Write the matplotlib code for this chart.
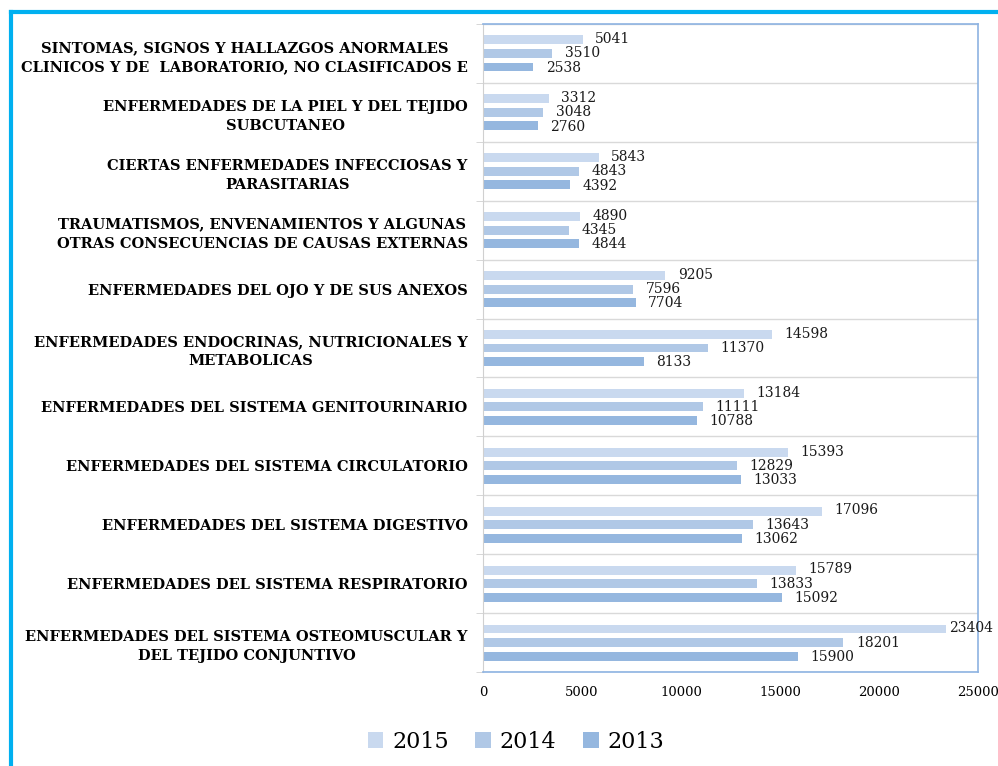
import matplotlib
matplotlib.use("Agg")
import matplotlib.pyplot as plt
from matplotlib.lines import Line2D
import numpy as np

# categories listed top to bottom as in the chart
categories = [
    "SINTOMAS, SIGNOS Y HALLAZGOS ANORMALES\nCLINICOS Y DE  LABORATORIO, NO CLASIFICADOS E",
    "ENFERMEDADES DE LA PIEL Y DEL TEJIDO\nSUBCUTANEO",
    "CIERTAS ENFERMEDADES INFECCIOSAS Y\nPARASITARIAS",
    "TRAUMATISMOS, ENVENAMIENTOS Y ALGUNAS\nOTRAS CONSECUENCIAS DE CAUSAS EXTERNAS",
    "ENFERMEDADES DEL OJO Y DE SUS ANEXOS",
    "ENFERMEDADES ENDOCRINAS, NUTRICIONALES Y\nMETABOLICAS",
    "ENFERMEDADES DEL SISTEMA GENITOURINARIO",
    "ENFERMEDADES DEL SISTEMA CIRCULATORIO",
    "ENFERMEDADES DEL SISTEMA DIGESTIVO",
    "ENFERMEDADES DEL SISTEMA RESPIRATORIO",
    "ENFERMEDADES DEL SISTEMA OSTEOMUSCULAR Y\nDEL TEJIDO CONJUNTIVO",
]
years = ["2015", "2014", "2013"]
v2015 = [5041, 3312, 5843, 4890, 9205, 14598, 13184, 15393, 17096, 15789, 23404]
v2014 = [3510, 3048, 4843, 4345, 7596, 11370, 11111, 12829, 13643, 13833, 18201]
v2013 = [2538, 2760, 4392, 4844, 7704, 8133, 10788, 13033, 13062, 15092, 15900]
xticks = [0, 5000, 10000, 15000, 20000, 25000]

colors = ["#C9D9EF", "#B0C8E6", "#95B7DF"]
serif = "DejaVu Serif"

fig = plt.figure(figsize=(9.98, 7.66), dpi=100)
ax = fig.add_axes([483 / 998, 1 - 672 / 766, 495 / 998, 648 / 766])

y = np.arange(len(categories))
step = 0.23
h = 0.15
for i, (vals, c, yr) in enumerate(zip([v2015, v2014, v2013], colors, years)):
    pos = y + (i - 1) * step
    bars = ax.barh(pos, vals, height=h, color=c, label=yr)
    for b, v in zip(bars, vals):
        # labels near the right edge are pulled in, as the original does
        dx = 9 if v < 22000 else 2
        ax.annotate(str(v), (b.get_width(), b.get_y() + b.get_height() / 2),
                    xytext=(dx, -0.5 * (i - 1)), textcoords="offset points",
                    ha="left", va="center", fontsize=10, family=serif,
                    color="#1a1a1a", annotation_clip=False)

ax.set_xlim(0, 25000)
ax.set_ylim(len(categories) - 0.5, -0.5)
ax.set_xticks(xticks)
ax.set_xticklabels([str(t) for t in xticks], family=serif, fontsize=9.5)
ax.tick_params(axis="x", length=0, pad=10)

ax.set_yticks(y)
ax.set_yticklabels(categories, family=serif, fontsize=10.5, fontweight="bold",
                   ma="center", linespacing=1.45)
ax.tick_params(axis="y", length=0, pad=11)
ax.set_yticks(np.arange(-0.5, len(categories)), minor=True)
ax.tick_params(axis="y", which="minor", length=5, color="#D0D0D0")
ax.grid(axis="y", which="minor", color="#D9D9D9", linewidth=1)
ax.set_axisbelow(True)

for s in ["top", "right", "bottom"]:
    ax.spines[s].set_color("#8DB3E2")
    ax.spines[s].set_linewidth(1.2)
ax.spines["left"].set_color("#D0D0D0")

fig.legend(loc="center", bbox_to_anchor=(516 / 998, 1 - 742 / 766), ncol=3,
           frameon=False, prop={"family": serif, "size": 16},
           handlelength=0.7, handleheight=0.7, columnspacing=1.2,
           handletextpad=0.4)

# cyan frame on top and left
fig.add_artist(Line2D([11 / 998, 1], [1 - 12 / 766, 1 - 12 / 766],
                      transform=fig.transFigure, color="#00B0F0", linewidth=3))
fig.add_artist(Line2D([11 / 998, 11 / 998], [0, 1 - 12 / 766],
                      transform=fig.transFigure, color="#00B0F0", linewidth=3))

fig.savefig("out.png", dpi=100)
